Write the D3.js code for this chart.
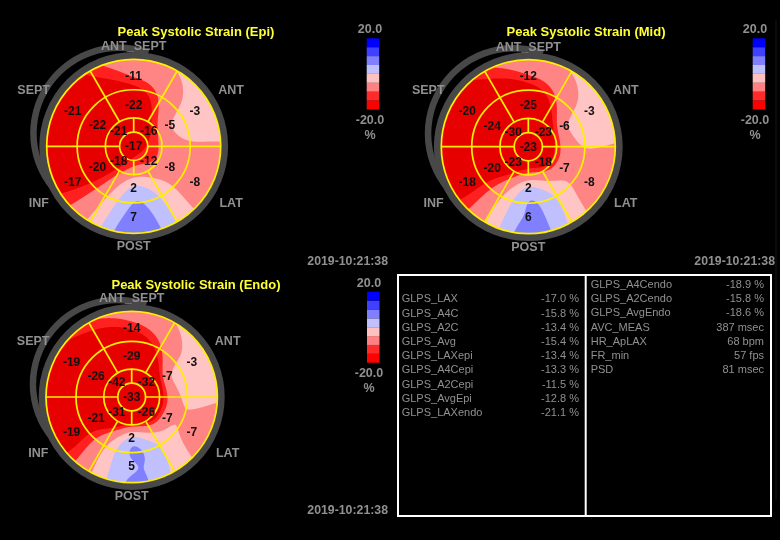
<!DOCTYPE html>
<html>
<head>
<meta charset="utf-8">
<title>Peak Systolic Strain</title>
<script src="https://cdn.jsdelivr.net/npm/d3@7"></script>
<style>
  html, body { margin: 0; background: #000; }
  svg { display: block; filter: blur(0.3px); }
  text { font-family: "Liberation Sans", Arial, sans-serif; }
  .view { font-size: 12.5px; font-weight: bold; fill: #909090; text-anchor: middle; dominant-baseline: central; }
  .title { font-size: 13px; font-weight: bold; fill: #ffff33; text-anchor: middle; dominant-baseline: central; }
  .val { font-size: 12px; font-weight: bold; fill: #111; text-anchor: middle; dominant-baseline: central; }
  .row { font-size: 11px; fill: #909090; dominant-baseline: central; }
  .stamp { font-size: 12.3px; font-weight: bold; fill: #909090; text-anchor: end; dominant-baseline: central; }
</style>
</head>
<body>
<svg id="chart" width="780" height="540"></svg>
<script>
// segment values, clockwise from ANT_SEPT (inner ring from the upper right quadrant)
const epiOuter = [-11, -3, -8, 7, -17, -21];
const epiMiddle = [-22, -5, -8, 2, -20, -22];
const epiInner = [-16, -12, -18, -21];
const epiApex = -17;

const midOuter = [-12, -3, -8, 6, -18, -20];
const midMiddle = [-25, -6, -7, 2, -20, -24];
const midInner = [-23, -18, -23, -30];
const midApex = -23;

const endoOuter = [-14, -3, -7, 5, -19, -19];
const endoMiddle = [-29, -7, -7, 2, -21, -26];
const endoInner = [-32, -26, -31, -42];
const endoApex = -33;

const viewLabels = ["ANT_SEPT", "ANT", "LAT", "POST", "INF", "SEPT"];
const stamp = "2019-10:21:38";

const legendEdges = [-20, -15, -10, -5, 0, 5, 10, 15, 20];
const legendColors = ["#ff0000", "#ff2a2a", "#ff8080", "#ffc0c0", "#c0c0ff", "#8080ff", "#4040ff", "#0000ff"];
// where the bands actually change colour in the plots
const plotBreaks = [-15, -11.5, -4.5, 1, 5.5, 10, 15];
const plotColors = ["#e60000", "#ff2020", "#ff8585", "#ffc4c4", "#c0c0ff", "#8080ff", "#4040ff", "#0000ff"];

const tableNames1 = ["GLPS_LAX", "GLPS_A4C", "GLPS_A2C", "GLPS_Avg", "GLPS_LAXepi", "GLPS_A4Cepi", "GLPS_A2Cepi", "GLPS_AvgEpi", "GLPS_LAXendo"];
const tableVals1 = ["-17.0 %", "-15.8 %", "-13.4 %", "-15.4 %", "-13.4 %", "-13.3 %", "-11.5 %", "-12.8 %", "-21.1 %"];
const tableNames2 = ["GLPS_A4Cendo", "GLPS_A2Cendo", "GLPS_AvgEndo", "AVC_MEAS", "HR_ApLAX", "FR_min", "PSD"];
const tableVals2 = ["-18.9 %", "-15.8 %", "-18.6 %", "387 msec", "68 bpm", "57 fps", "81 msec"];

const svg = d3.select("#chart");
const color = d3.scaleThreshold().domain(plotBreaks).range(plotColors);
const rad = d => d * Math.PI / 180;

// thin plate spline through the segment centres, gives the smooth strain field
function tps(pts) {
  const n = pts.length, m = n + 3;
  const U = d => d > 0 ? d * d * Math.log(d) : 0;
  const A = d3.range(m).map(() => new Array(m + 1).fill(0));
  pts.forEach((p, i) => {
    pts.forEach((q, j) => { A[i][j] = U(Math.hypot(p.x - q.x, p.y - q.y)); });
    [1, p.x, p.y].forEach((c, j) => { A[i][n + j] = c; A[n + j][i] = c; });
    A[i][m] = p.v;
  });
  for (let c = 0; c < m; c++) {
    let best = c;
    for (let r = c + 1; r < m; r++) if (Math.abs(A[r][c]) > Math.abs(A[best][c])) best = r;
    [A[c], A[best]] = [A[best], A[c]];
    for (let r = 0; r < m; r++) {
      if (r === c) continue;
      const f = A[r][c] / A[c][c];
      for (let s = c; s <= m; s++) A[r][s] -= f * A[c][s];
    }
  }
  const w = A.map((row, i) => row[m] / row[i]);
  return (x, y) => {
    let z = w[n] + w[n + 1] * x + w[n + 2] * y;
    for (let i = 0; i < n; i++) z += w[i] * U(Math.hypot(x - pts[i].x, y - pts[i].y));
    return z;
  };
}

let clipId = 0;

function bullseye(o) {
  const { cx, cy, R, title, titleX, titleY, outer, middle, inner, apex } = o;
  const g = svg.append("g").attr("transform", `translate(${cx},${cy})`);
  const rScale = d3.scaleLinear().domain([0, 1]).range([0, R]);
  const rings = [0.162, 0.326, 0.65, 1].map(rScale);

  // gray crescent + ring behind the plot
  g.append("path").attr("fill", "#484848")
    .attr("transform", `translate(${-R * 0.17},${-R * 0.15})`)
    .attr("d", d3.arc().innerRadius(R * 0.945).outerRadius(R * 1.02).startAngle(-2.45).endAngle(0.35)());
  g.append("circle").attr("r", R * 1.04).attr("fill", "none").attr("stroke", "#484848").attr("stroke-width", R * 0.09);

  // segment centres with their values
  const centre = (v, deg, r) => {
    const p = d3.pointRadial(rad(deg), rScale(r));
    return { v, x: p[0], y: p[1] };
  };
  const nodes = [
    ...outer.map((v, i) => centre(v, i * 60, 0.81)),
    ...middle.map((v, i) => centre(v, i * 60, 0.48)),
    ...inner.map((v, i) => centre(v, 45 + i * 90, 0.245)),
    centre(apex, 0, 0)
  ];
  // the outer wall keeps the mid -> outer trend going out to the rim
  const rimVals = outer.map((v, i) => v + (v - middle[i]) * 0.5);
  const rim = rimVals.flatMap((v, i) => [
    centre(v, i * 60, 1.05),
    centre((v + rimVals[(i + 1) % 6]) / 2, i * 60 + 30, 1.05)
  ]);

  // filled contour bands
  const id = "clip" + (clipId++);
  g.append("clipPath").attr("id", id).append("circle").attr("r", R);
  const plot = g.append("g").attr("clip-path", `url(#${id})`);
  plot.append("circle").attr("r", R).attr("fill", color(-99));

  const field = tps([...nodes, ...rim]);
  const k = 2, half = R + 3, n = Math.ceil(half * 2 * k);
  const grid = new Float64Array(n * n);
  for (let j = 0; j < n; j++) for (let i = 0; i < n; i++) {
    grid[j * n + i] = field((i + 0.5) / k - half, (j + 0.5) / k - half);
  }
  const bands = d3.contours().size([n, n]).thresholds(plotBreaks)(grid);
  plot.append("g").attr("transform", `translate(${-half},${-half}) scale(${1 / k})`)
    .selectAll("path").data(bands).join("path")
    .attr("d", d3.geoPath())
    .attr("fill", d => color(d.value));

  // yellow grid
  const yellow = "#ffee00";
  g.selectAll("circle.ring").data(rings).join("circle").attr("class", "ring")
    .attr("r", d => d).attr("fill", "none").attr("stroke", yellow).attr("stroke-width", 1.7);
  const spoke = (deg, r0, r1) => {
    const p0 = d3.pointRadial(rad(deg), r0), p1 = d3.pointRadial(rad(deg), r1);
    g.append("line").attr("x1", p0[0]).attr("y1", p0[1]).attr("x2", p1[0]).attr("y2", p1[1])
      .attr("stroke", yellow).attr("stroke-width", 1.7);
  };
  [30, 150, 210, 330].forEach(d => spoke(d, rings[1], R));
  [90, 270].forEach(d => spoke(d, rings[0], R));
  [0, 180].forEach(d => spoke(d, rings[0], rings[1]));

  // values
  g.selectAll("text.val").data(nodes).join("text").attr("class", "val")
    .attr("x", d => d.x).attr("y", d => d.y).text(d => d.v);

  // view labels around the ring
  const labelPos = [[0, -R * 1.15], [R * 1.12, -R * 0.65], [R * 1.12, R * 0.65], [0, R * 1.15], [-R * 1.09, R * 0.65], [-R * 1.15, -R * 0.65]];
  viewLabels.forEach((t, i) => {
    g.append("text").attr("class", "view").attr("x", labelPos[i][0]).attr("y", labelPos[i][1]).text(t);
  });

  svg.append("text").attr("class", "title").attr("x", titleX).attr("y", titleY).text(title);
}

function colorbar(x, y0, y1, textX, stampX, stampY) {
  const y = d3.scaleLinear().domain([20, -20]).range([y0, y1]);
  svg.append("g").selectAll("rect").data(legendColors).join("rect")
    .attr("x", x).attr("width", 12.5)
    .attr("y", (d, i) => y(legendEdges[i + 1]))
    .attr("height", (d, i) => y(legendEdges[i]) - y(legendEdges[i + 1]))
    .attr("fill", d => d);
  const lab = (t, yy) => svg.append("text").attr("class", "view").attr("x", textX).attr("y", yy).text(t);
  lab("20.0", y0 - 9);
  lab("-20.0", y1 + 10);
  lab("%", y1 + 25.5);
  svg.append("text").attr("class", "stamp").attr("x", stampX).attr("y", stampY).text(stamp);
}

bullseye({ cx: 133.7, cy: 146.3, R: 87, title: "Peak Systolic Strain (Epi)", titleX: 196, titleY: 31, outer: epiOuter, middle: epiMiddle, inner: epiInner, apex: epiApex });
bullseye({ cx: 528.3, cy: 146.7, R: 87, title: "Peak Systolic Strain (Mid)", titleX: 586, titleY: 31, outer: midOuter, middle: midMiddle, inner: midInner, apex: midApex });
bullseye({ cx: 131.7, cy: 397, R: 85.7, title: "Peak Systolic Strain (Endo)", titleX: 196, titleY: 284, outer: endoOuter, middle: endoMiddle, inner: endoInner, apex: endoApex });

colorbar(366.7, 38.3, 109.5, 370, 388, 261);
colorbar(752.7, 38.3, 109.5, 755, 775, 261);
colorbar(367, 291.7, 362.7, 369, 388, 510);

// summary table
svg.append("rect").attr("x", 398).attr("y", 275).attr("width", 373).attr("height", 241)
  .attr("fill", "none").attr("stroke", "#fff").attr("stroke-width", 2);
svg.append("line").attr("x1", 585.7).attr("x2", 585.7).attr("y1", 275).attr("y2", 516)
  .attr("stroke", "#fff").attr("stroke-width", 2);
// faint scan edge on the right of the screen
svg.append("line").attr("x1", 776).attr("x2", 776).attr("y1", 20).attr("y2", 500)
  .attr("stroke", "#17171c").attr("stroke-width", 1);

function tableColumn(names, vals, x0, x1, y0) {
  const y = d3.scaleLinear().domain([0, 1]).range([y0, y0 + 14.2]);
  names.forEach((t, i) => {
    svg.append("text").attr("class", "row").attr("x", x0).attr("y", y(i)).text(t);
    svg.append("text").attr("class", "row").attr("x", x1).attr("y", y(i)).attr("text-anchor", "end").text(vals[i]);
  });
}
tableColumn(tableNames1, tableVals1, 401.7, 579, 298.3);
tableColumn(tableNames2, tableVals2, 590.7, 764, 284);
</script>
</body>
</html>
